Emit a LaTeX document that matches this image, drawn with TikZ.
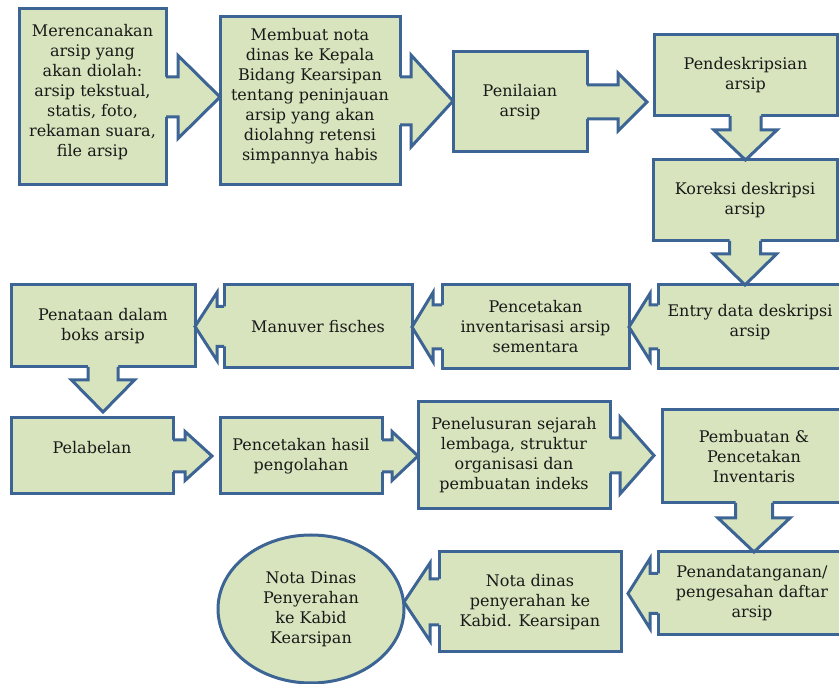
\documentclass[tikz,border=0pt]{standalone}
\usepackage{fontspec}
\setmainfont{DejaVu Serif}
\usetikzlibrary{calc,shapes.geometric}
\definecolor{boxgreen}{HTML}{D7E4BD}
\definecolor{boxblue}{HTML}{3C6494}

% callout arrows: #1 from, #2 to, #3 stem half width, #4 head half width, #5 head length, #6 gap
\newcommand{\arrowE}[6]{%
  \coordinate (tip) at ($(#2.west |- #1.east)+(-#6,0)$);
  \fill[boxfill] ($(#1.east)+(-2,#3)$) -- ($(tip)+(-#5,#3)$) -- ($(tip)+(-#5,#4)$) -- (tip)
    -- ($(tip)+(-#5,-#4)$) -- ($(tip)+(-#5,-#3)$) -- ($(#1.east)+(-2,-#3)$) -- cycle;
  \draw[boxline] ($(#1.east)+(0,#3)$) -- ($(tip)+(-#5,#3)$) -- ($(tip)+(-#5,#4)$) -- (tip)
    -- ($(tip)+(-#5,-#4)$) -- ($(tip)+(-#5,-#3)$) -- ($(#1.east)+(0,-#3)$);
}
\newcommand{\arrowW}[6]{%
  \coordinate (tip) at ($(#2.east |- #1.west)+(#6,0)$);
  \fill[boxfill] ($(#1.west)+(2,#3)$) -- ($(tip)+(#5,#3)$) -- ($(tip)+(#5,#4)$) -- (tip)
    -- ($(tip)+(#5,-#4)$) -- ($(tip)+(#5,-#3)$) -- ($(#1.west)+(2,-#3)$) -- cycle;
  \draw[boxline] ($(#1.west)+(0,#3)$) -- ($(tip)+(#5,#3)$) -- ($(tip)+(#5,#4)$) -- (tip)
    -- ($(tip)+(#5,-#4)$) -- ($(tip)+(#5,-#3)$) -- ($(#1.west)+(0,-#3)$);
}
\newcommand{\arrowS}[6]{%
  \coordinate (tip) at ($(#1.south |- #2.north)+(0,-#6)$);
  \fill[boxfill] ($(#1.south)+(-#3,-2)$) -- ($(tip)+(-#3,-#5)$) -- ($(tip)+(-#4,-#5)$) -- (tip)
    -- ($(tip)+(#4,-#5)$) -- ($(tip)+(#3,-#5)$) -- ($(#1.south)+(#3,-2)$) -- cycle;
  \draw[boxline] ($(#1.south)+(-#3,0)$) -- ($(tip)+(-#3,-#5)$) -- ($(tip)+(-#4,-#5)$) -- (tip)
    -- ($(tip)+(#4,-#5)$) -- ($(tip)+(#3,-#5)$) -- ($(#1.south)+(#3,0)$);
}

\begin{document}
\begin{tikzpicture}[x=1pt,y=-1pt,
  box/.style={draw=boxblue,fill=boxgreen,line width=3pt,outer sep=0pt,inner sep=2pt,
    align=center,text=black!90,font=\fontsize{16}{20}\selectfont},
  boxline/.style={draw=boxblue,line width=3pt},
  boxfill/.style={fill=boxgreen}]
\useasboundingbox (0,0) rectangle (839,684);
\clip (0,0) rectangle (839,684);
% first row
\node[box,minimum width=147,minimum height=176] (rencana) at (92.5,97)
  {Merencanakan\\arsip yang\\akan diolah:\\arsip tekstual,\\statis, foto,\\rekaman suara,\\file arsip\\[-6pt]\mbox{}};
\node[box,minimum width=180,minimum height=168] (nota) at (310,101)
  {Membuat nota\\dinas ke Kepala\\Bidang Kearsipan\\tentang peninjauan\\arsip yang akan\\diolahng retensi\\simpannya habis\\[-6pt]\mbox{}};
\node[box,minimum width=134,minimum height=100] (nilai) at (520,102) {Penilaian\\arsip};
\node[box,minimum width=183,minimum height=81] (deskripsi) at (745.5,75.5) {Pendeskripsian\\arsip};
\node[box,minimum width=184,minimum height=81] (koreksi) at (745,200.5) {Koreksi deskripsi\\arsip};
% second row
\node[box,minimum width=184,minimum height=84] (entry) at (750,327) {Entry data deskripsi\\arsip\\[-6pt]\mbox{}};
\node[box,minimum width=187,minimum height=84] (cetakinv) at (535.5,327) {Pencetakan\\inventarisasi arsip\\sementara};
\node[box,minimum width=188,minimum height=83] (manuver) at (318,326.5) {Manuver fisches};
\node[box,minimum width=184,minimum height=82] (penataan) at (103,326) {Penataan dalam\\boks arsip};
% third row
\node[box,minimum width=162,minimum height=76] (pelabelan) at (92,456) {Pelabelan\\[-2pt]\mbox{}};
\node[box,minimum width=162,minimum height=76] (cetakhasil) at (301,456) {Pencetakan hasil\\pengolahan};
\node[box,minimum width=192,minimum height=107] (telusur) at (514,455.5)
  {Penelusuran sejarah\\lembaga, struktur\\organisasi dan\\pembuatan indeks};
\node[box,minimum width=184,minimum height=93] (inventaris) at (754,456.5) {Pembuatan \&\\Pencetakan\\Inventaris};
% fourth row
\node[box,minimum width=188,minimum height=83] (ttd) at (752,593.5) {Penandatanganan/\\pengesahan daftar\\arsip};
\node[box,minimum width=182,minimum height=100] (serah) at (530,602) {Nota dinas\\penyerahan ke\\Kabid. Kearsipan};
\node[box,ellipse,minimum width=186,minimum height=148,inner sep=0pt] (kabid) at (311,609)
  {Nota Dinas\\Penyerahan\\ke Kabid\\Kearsipan};
% arrows
\arrowE{rencana}{nota}{20}{41.5}{42}{0}
\arrowE{nota}{nilai}{24}{46}{42}{0}
\arrowE{nilai}{deskripsi}{17}{29}{29}{7}
\arrowS{deskripsi}{koreksi}{15.5}{31.5}{30}{0}
\arrowS{koreksi}{entry}{15.5}{31.5}{31}{0}
\arrowW{entry}{cetakinv}{22}{33.5}{21}{0}
\arrowW{cetakinv}{manuver}{22}{34.5}{21}{0}
\arrowW{manuver}{penataan}{20}{34}{22}{0}
\arrowS{penataan}{pelabelan}{15}{31.5}{32}{6}
\arrowE{pelabelan}{cetakhasil}{16}{24.5}{27}{8}
\arrowE{cetakhasil}{telusur}{16}{24.5}{26}{0}
\arrowE{telusur}{inventaris}{17.5}{38.5}{34}{8}
\arrowS{inventaris}{ttd}{18.5}{36}{34}{0}
\arrowW{ttd}{serah}{20}{35}{22}{7}
\arrowW{serah}{kabid}{23}{39}{26}{0}
\end{tikzpicture}
\end{document}
